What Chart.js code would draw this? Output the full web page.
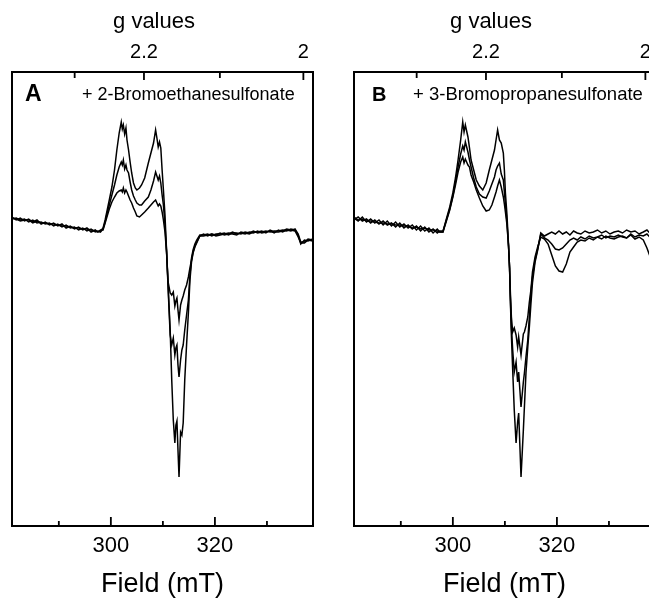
<!DOCTYPE html>
<html>
<head>
<meta charset="utf-8">
<script src="https://cdn.jsdelivr.net/npm/chart.js@4"></script>
<style>
  html, body { margin: 0; padding: 0; background: #fff; overflow: hidden; width: 649px; height: 602px; }
  .panel { position: absolute; top: 0; height: 602px; }
  #pa { left: 0; width: 330px; }
  #pb { left: 330px; width: 345px; }
</style>
</head>
<body>
<div class="panel" id="pa"><canvas id="chartA" width="330" height="602"></canvas></div>
<div class="panel" id="pb"><canvas id="chartB" width="345" height="602"></canvas></div>
<script>
// axis range and ticks (field in mT)
const fieldMin = 281.0, fieldMax = 338.85;
const fieldTicks = [290, 300, 310, 320, 330];
const fieldLabels = [300, 320];
const gTicks = [2.3, 2.2, 2.1, 2.0];
const gLabels = [2.2, 2.0];
const hvOverMuB = 674.0; // g * B (mT) for the spectrometer frequency

// panel A: + 2-bromoethanesulfonate, three spectra
const fieldA = [281, 281.8, 282.6, 283.4, 284.2, 285, 285.8, 286.6, 287.4, 288.2, 289, 289.8, 290.6, 291.4, 292.2, 293, 293.8, 294.6, 295.4, 296.2, 297, 297.5,
  298.0, 298.5, 298.9, 299.3, 299.7, 300.2, 300.7, 301.15, 301.6, 302.0, 302.2, 302.4, 302.65, 302.9, 303.1, 303.4, 303.7, 304.0, 304.35, 304.7,
  305.0, 305.5, 305.9, 306.5, 307.2, 307.7, 308.2, 308.6, 308.85, 309.1, 309.35, 309.6, 309.85, 310.1, 310.4, 310.7, 311.0, 311.4, 311.7, 312.0,
  312.3, 312.5, 312.7, 312.9, 313.1, 313.4, 313.65, 313.9, 314.2, 314.55, 314.9, 315.2, 315.5, 315.8, 316.15, 316.5, 317.1,
  317.8, 318.6, 319.4, 320.2, 321, 321.8, 322.6, 323.4, 324.2, 325, 325.8, 326.6, 327.4, 328.2, 329, 329.8, 330.6, 331.4, 332.2, 333, 333.8, 334.6, 335.4, 336.0, 336.5, 337.2, 337.9, 338.8];
const specA1 = [5, 2, 4, 1, 3, 0, 2, -2, 0, -3, -1, -4, -2, -6, -4, -7, -5, -8, -6, -10, -8, -10,
  -9, -6, 2, 12, 22, 35, 52, 72, 89, 100, 93, 97, 88, 94, 82, 72, 60, 49, 39, 34,
  32, 34, 37, 44, 59, 69, 79, 92, 84, 75, 80, 74, 52, 32, 7, -28, -63, -108, -158, -198,
  -221, -203, -199, -228, -255, -210, -213, -201, -158, -123, -91, -58, -40, -31, -25, -21, -14,
  -12, -14, -12, -13, -11, -13, -12, -10, -12, -11, -12, -10, -11, -9, -11, -10, -9, -11, -8, -10, -8, -9, -7, -12, -20, -20, -17, -18];
const specA2 = [3, 4, 2, 3, 0, 2, -1, 0, -2, -1, -4, -2, -5, -3, -6, -5, -8, -6, -9, -7, -10, -9,
  -10, -7, 0, 9, 17, 27, 37, 47, 55, 60, 57, 62, 53, 57, 52, 49, 40, 32, 26, 22,
  19, 17, 17, 21, 25, 32, 41, 50, 46, 42, 46, 39, 27, 17, -3, -28, -66, -113, -123, -116,
  -133, -126, -123, -143, -155, -138, -128, -123, -108, -93, -78, -53, -36, -28, -22, -18, -13,
  -13, -12, -14, -12, -12, -11, -13, -11, -11, -12, -10, -11, -9, -11, -10, -9, -10, -9, -9, -8, -9, -7, -8, -13, -22, -18, -19, -17];
const specA3 = [4, 3, 1, 2, 2, -1, 1, -1, -1, -2, -2, -3, -4, -4, -5, -6, -6, -7, -7, -8, -9, -10,
  -8, -8, -1, 6, 13, 20, 25, 29, 31, 32, 30, 34, 29, 32, 30, 26, 22, 19, 14, 10,
  6, 5, 7, 10, 14, 17, 20, 22, 19, 16, 18, 16, 10, 2, -10, -30, -60, -71, -73, -70,
  -84, -79, -76, -88, -98, -83, -78, -74, -68, -63, -55, -46, -38, -30, -24, -20, -14,
  -14, -13, -12, -14, -13, -12, -11, -12, -13, -10, -11, -12, -10, -10, -9, -11, -8, -10, -10, -9, -7, -8, -9, -15, -21, -21, -18, -19];

// panel B: + 3-bromopropanesulfonate, three spectra
const fieldB = [281, 281.8, 282.6, 283.4, 284.2, 285, 285.8, 286.6, 287.4, 288.2, 289, 289.8, 290.6, 291.4, 292.2, 293, 293.8, 294.6, 295.4, 296.2, 297, 297.5,
  298.1, 298.7, 299.4, 300.0, 300.5, 301.0, 301.5, 301.9, 302.15, 302.4, 302.9, 303.2, 303.5, 304.0, 304.5, 305.1, 305.75, 306.4, 307.0, 307.5,
  308.0, 308.3, 308.6, 308.95, 309.3, 309.7, 309.9, 310.1, 310.4, 310.7, 310.9, 311.05, 311.25, 311.5, 311.8, 312.15, 312.45, 312.65, 313.1, 313.55,
  313.75, 314.05, 314.4, 314.7, 315.0, 315.3, 315.8, 316.3, 316.9,
  317.6, 318.3, 319.0, 319.7, 320.4, 321.1, 321.8, 322.5, 323.2, 323.9, 324.6, 325.4, 326.2, 327.0, 327.8, 328.6, 329.4, 330.2, 331.0, 331.8, 332.6, 333.4, 334.2, 335.0, 335.8, 336.6, 337.3, 338.0, 338.8];
const specB1 = [4, 1, 5, 0, 3, -1, 2, -3, 1, -4, 0, -5, -2, -6, -3, -8, -4, -9, -6, -11, -7, -10,
  -10, 2, 15, 29, 44, 62, 82, 100, 90, 97, 85, 74, 62, 52, 42, 36, 32, 39, 52, 62,
  72, 82, 92, 82, 79, 69, 52, 29, 7, -23, -46, -78, -113, -148, -188, -221, -200, -191, -255, -208,
  -185, -151, -125, -105, -82, -61, -40, -28, -11,
  -14, -12, -10, -12, -9, -12, -10, -13, -9, -11, -12, -9, -11, -10, -8, -11, -9, -12, -10, -9, -11, -8, -10, -9, -12, -10, -8, -12, -11];
const specB2 = [2, 5, 1, 3, -1, 2, -2, 1, -3, -1, -5, -1, -6, -3, -7, -4, -9, -5, -10, -7, -11, -9,
  -9, 1, 13, 26, 40, 55, 68, 76, 72, 80, 70, 62, 55, 44, 35, 28, 25, 24, 31, 38,
  45, 52, 56, 59, 48, 42, 30, 18, 0, -24, -46, -76, -105, -128, -150, -140, -160, -150, -185, -160,
  -151, -135, -118, -95, -70, -55, -38, -27, -12,
  -16, -18, -22, -27, -28, -26, -22, -18, -16, -18, -15, -17, -14, -16, -15, -13, -16, -14, -15, -13, -15, -16, -12, -15, -13, -14, -12, -16, -15];
const specB3 = [5, 2, 3, 1, 1, 0, -1, -1, -2, -2, -3, -3, -4, -4, -6, -5, -7, -6, -8, -8, -9, -10,
  -10, 0, 12, 25, 37, 50, 60, 65, 59, 63, 57, 55, 47, 40, 32, 24, 16, 11, 12, 17,
  25, 30, 36, 42, 35, 25, 18, 10, -3, -24, -46, -70, -95, -110, -106, -113, -125, -115, -133, -112,
  -110, -104, -95, -80, -68, -50, -35, -25, -15,
  -17, -22, -33, -44, -49, -50, -42, -30, -25, -20, -18, -19, -16, -18, -15, -17, -14, -16, -17, -15, -14, -16, -13, -17, -15, -18, -26, -36, -30];

const FONT = '"Liberation Sans", Arial, Helvetica, sans-serif';

// box, inward ticks and panel texts
const eprFrame = {
  id: 'eprFrame',
  afterDraw(chart, args, opts) {
    const { ctx, chartArea: a, scales } = chart;
    ctx.save();
    ctx.strokeStyle = '#000';
    ctx.lineWidth = 2;
    ctx.strokeRect(a.left, a.top, a.right - a.left, a.bottom - a.top);
    ctx.lineWidth = 1.8;
    ctx.beginPath();
    fieldTicks.forEach(f => {
      const x = scales.x.getPixelForValue(f);
      const len = fieldLabels.includes(f) ? 9 : 5;
      ctx.moveTo(x, a.bottom);
      ctx.lineTo(x, a.bottom - len);
    });
    gTicks.forEach(g => {
      const x = scales.x2.getPixelForValue(hvOverMuB / g);
      const len = gLabels.includes(g) ? 8 : 6;
      ctx.moveTo(x, a.top);
      ctx.lineTo(x, a.top + len);
    });
    ctx.stroke();

    ctx.fillStyle = '#000';
    ctx.textBaseline = 'alphabetic';
    ctx.textAlign = 'center';
    ctx.font = '22px ' + FONT;
    ctx.fillText('g values', a.left + opts.titleDx, 28);
    ctx.textAlign = 'left';
    ctx.font = opts.letterFont;
    ctx.fillText(opts.letter, a.left + opts.letterDx, 101);
    ctx.font = opts.noteFont;
    ctx.fillText(opts.note, a.left + opts.noteDx, 100);
    ctx.restore();
  }
};

function makeChart(id, field, specs, pad, panel) {
  return new Chart(document.getElementById(id), {
    type: 'line',
    data: {
      datasets: specs.map(s => ({
        data: field.map((f, i) => ({ x: f, y: s[i] })),
        borderColor: '#000',
        borderWidth: 1.5,
        pointRadius: 0,
        tension: 0,
        fill: false
      }))
    },
    options: {
      responsive: false,
      animation: false,
      layout: { padding: { left: pad.left, right: pad.right, top: 0, bottom: 0 } },
      plugins: {
        legend: { display: false },
        tooltip: { enabled: false },
        eprFrame: panel
      },
      scales: {
        x: {
          type: 'linear',
          position: 'bottom',
          min: fieldMin,
          max: fieldMax,
          afterBuildTicks: s => { s.ticks = fieldTicks.map(v => ({ value: v })); },
          afterFit: s => { s.height = 76; },
          grid: { display: false, drawTicks: false },
          border: { display: false },
          ticks: {
            autoSkip: false,
            maxRotation: 0,
            padding: 7,
            color: '#000',
            font: { family: FONT, size: 22 },
            callback: v => fieldLabels.includes(v) ? String(v) : ''
          },
          title: {
            display: true,
            text: 'Field (mT)',
            color: '#000',
            font: { family: FONT, size: 27 },
            padding: { top: 0, bottom: 1 }
          }
        },
        x2: {
          type: 'linear',
          position: 'top',
          min: fieldMin,
          max: fieldMax,
          afterBuildTicks: s => { s.ticks = gTicks.map(g => ({ value: hvOverMuB / g })); },
          afterFit: s => { s.height = 72; },
          grid: { display: false, drawTicks: false },
          border: { display: false },
          ticks: {
            autoSkip: false,
            maxRotation: 0,
            padding: 8,
            color: '#000',
            font: { family: FONT, size: 20 },
            callback: (v, i) => gLabels.includes(gTicks[i]) ? String(gTicks[i]) : ''
          }
        },
        y: {
          display: false,
          min: -304,
          max: 150
        }
      }
    },
    plugins: [eprFrame]
  });
}

makeChart('chartA', fieldA, [specA1, specA2, specA3], { left: 12, right: 17 }, {
  letter: 'A', letterFont: 'bold 23px ' + FONT, letterDx: 13,
  note: '+ 2-Bromoethanesulfonate', noteFont: '18px ' + FONT, noteDx: 70,
  titleDx: 142
});
makeChart('chartB', fieldB, [specB1, specB2, specB3], { left: 24, right: 20 }, {
  letter: 'B', letterFont: 'bold 20px ' + FONT, letterDx: 18,
  note: '+ 3-Bromopropanesulfonate', noteFont: '18.5px ' + FONT, noteDx: 59,
  titleDx: 137
});
</script>
</body>
</html>
